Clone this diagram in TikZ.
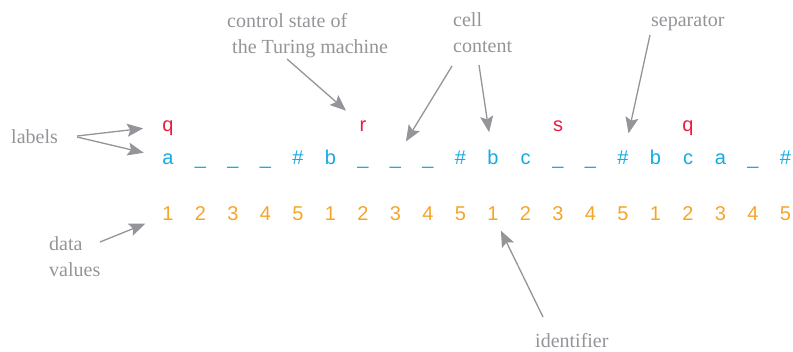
\documentclass[tikz,border=0pt]{standalone}
\usepackage{fontspec}
\newfontfamily\cellfont{Liberation Sans}
\newfontfamily\notefont{Liberation Serif}
\usetikzlibrary{arrows.meta}
\definecolor{notegray}{RGB}{148,148,153}
\definecolor{statered}{RGB}{232,28,68}
\definecolor{cellblue}{RGB}{20,170,230}
\definecolor{dataorange}{RGB}{245,165,40}
\begin{document}
\begin{tikzpicture}[x=1pt,y=-1pt,
  cell/.style={font=\cellfont\fontsize{20}{24}\selectfont, inner sep=0pt, text height=15pt, text depth=4pt, anchor=center},
  statecell/.style={cell, text=statered},
  tapecell/.style={cell, text=cellblue},
  datacell/.style={cell, text=dataorange},
  note/.style={font=\notefont\fontsize{20}{26}\selectfont, text=notegray, align=left, inner sep=0pt, anchor=base west},
  arr/.style={draw=notegray, line width=1.3pt, -{Stealth[length=16pt,width=13pt,inset=3pt]}}]
\useasboundingbox (0,0) rectangle (793,351);
% state row
\node[statecell] (s1)  at (168,125.5) {q};
\node[statecell] (s7)  at ({168+6*32.5},125.5) {r};
\node[statecell] (s13) at ({168+12*32.5},125.5) {s};
\node[statecell] (s17) at ({168+16*32.5},125.5) {q};
% tape row
\foreach \t [count=\i] in {a,\_,\_,\_,\#,b,\_,\_,\_,\#,b,c,\_,\_,\#,b,c,a,\_,\#}
  \node[tapecell] (c\i) at ({168+(\i-1)*32.5},158.5) {\t};
% data row
\foreach \t [count=\i] in {1,2,3,4,5,1,2,3,4,5,1,2,3,4,5,1,2,3,4,5}
  \node[datacell] (n\i) at ({168+(\i-1)*32.5},214.5) {\t};
% notes (multi-line notes are placed by the baseline of their last line)
\node[note] (labelsT) at (11,143) {labels};
\node[note] (ctlT) at (227,53) {control state of\\\hspace*{5pt}the Turing machine};
\node[note] (cellT) at (453,52) {cell\\content};
\node[note] (sepT) at (651,26) {separator};
\node[note] (dataT) at (49,276) {data\\values};
\node[note] (idT) at (535,347) {identifier};
% connector start points
\coordinate (labelsS1) at (77,136);
\coordinate (labelsS2) at (77,137);
\coordinate (ctlS) at (287,59);
\coordinate (cellS1) at (452,66);
\coordinate (cellS2) at (479,65);
\coordinate (sepS) at (650,35);
\coordinate (dataS) at (100,242);
\coordinate (idS) at (543,317);
% connectors
\draw[arr, shorten >=25pt] (labelsS1) -- (s1.center);
\draw[arr, shorten >=25pt] (labelsS2) -- (c1.center);
\draw[arr, shorten >=22.6pt] (ctlS) -- (s7.center);
\draw[arr, shorten >=20pt] (cellS1) -- (c8.center);
\draw[arr, shorten >=26.6pt] (cellS2) -- (c11.center);
\draw[arr, shorten >=25.8pt] (sepS) -- (c15.center);
\draw[arr, shorten >=24.6pt] (dataS) -- (n1.center);
\draw[arr, shorten >=18pt] (idS) -- (n11.center);
\end{tikzpicture}
\end{document}
